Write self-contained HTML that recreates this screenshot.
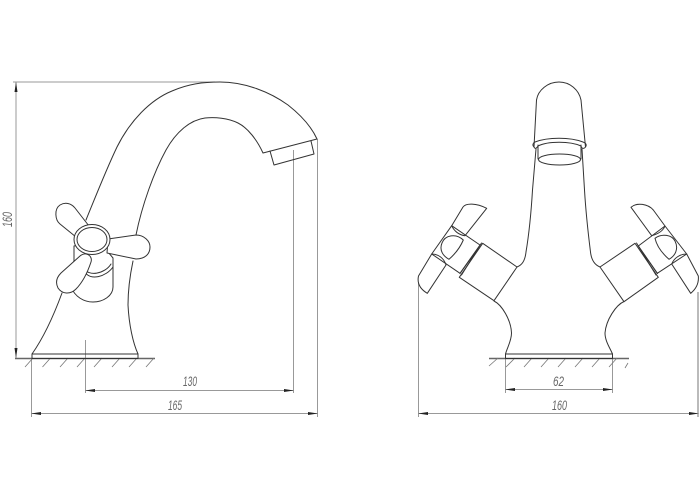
<!DOCTYPE html>
<html><head><meta charset="utf-8"><style>
html,body{margin:0;padding:0;background:#fff}
svg{display:block}
text{font-family:"Liberation Sans",sans-serif;font-style:italic;font-size:14px;fill:#666}
.o{fill:none;stroke:#333;stroke-width:1;stroke-linejoin:round;stroke-linecap:round}
.w{fill:#fff;stroke:#333;stroke-width:1;stroke-linejoin:round}
.d{fill:none;stroke:#999;stroke-width:1}
.g{fill:none;stroke:#666;stroke-width:1.6}
.h{fill:none;stroke:#777;stroke-width:.8}
.a{fill:#222;stroke:none}
</style></head><body>
<svg width="700" height="500" viewBox="0 0 700 500" xmlns="http://www.w3.org/2000/svg">
<rect width="700" height="500" fill="#fff"/>

<!-- LEFT dims -->
<path class="d" d="M13 82H215M16 82V358M85.500 340V393M85.500 390.500H293.500M293.500 150V393M31.500 358V417M31.500 413.500H317.500M317.500 139V417"/>
<path class="a" d="M16 82l1.500 10h-3zM16 358l1.500-10h-3zM85 390.500l10-1.500v3zM294 390.500l-10-1.500v3zM31 413.500l10-1.500v3zM318 413.500l-10-1.500v3z"/>
<path class="g" d="M15 358.500H155"/>
<path class="h" d="M33 358l-8 9M50.500 358l-8 9M68 358l-8 9M85 358l-8 9M102 358l-8 9M120 358l-8 9M137 358l-8 9M154 358l-8 9"/>
<text x="183" y="386" textLength="14" lengthAdjust="spacingAndGlyphs">130</text>
<text x="168" y="410" textLength="14" lengthAdjust="spacingAndGlyphs">165</text>
<text transform="translate(12,227) rotate(-90)" textLength="15" lengthAdjust="spacingAndGlyphs">160</text>

<!-- LEFT faucet -->
<path class="o" d="M86 220C95 198 106 170 117 147C130 121 150 100 172 91C188 84 203 82 220 82C245 82 270 92 288 105C302 116 312 128 317 139L263 153C257 140 248 128 238 123C228 118 215 117 205 118C190 120 176 132 166 150C154 172 142 205 136 235"/>
<path class="o" d="M270 151L274 165L314 154L311 141"/>
<path class="o" d="M133 261C129 280 128 295 128 305C129 325 133 343 138 354M62 293C55 312 44 337 32 354"/>
<rect class="o" x="32" y="354" width="106" height="4.500"/>
<!-- body behind handle -->
<path class="w" d="M74 246V261C72 264 71 268 71 272V287C75 297 84 302 93 302C103 302 113 296 113 287V258L108 252V240Z"/>
<path class="o" d="M84 268C88 277 105 274 111 264M85 272C90 281 106 277 113 267"/>
<!-- upper-left handle -->
<path class="w" d="M89 226L75 208C71 203 65 202 60 205C54 209 55 220 60 224L76 237Z"/>
<!-- right handle -->
<path class="w" d="M108 239L136 235C144 235 150 241 150 247C150 254 145 259 136 259L107 253Z"/>
<ellipse class="w" cx="92" cy="239.500" rx="18" ry="15"/>
<ellipse class="o" cx="92" cy="239.500" rx="15" ry="12"/>
<!-- lower-left handle -->
<path class="w" d="M80 256C86 251 93 256 91 262C88 271 84 281 76 289C70 295 62 294 58 288C55 282 57 277 61 273Z"/>

<!-- RIGHT dims -->
<path class="d" d="M418.500 283V417M418.500 413.500H698M505.500 358V393M612.500 358V393M505.500 389.500H612.500"/>
<path stroke="#bbb" stroke-width="2" fill="none" d="M698 292V417"/>
<path class="a" d="M418 413.500l10-1.500v3zM699 413.500l-10-1.500v3zM505 389.500l10-1.500v3zM613 389.500l-10-1.500v3z"/>
<path class="g" d="M489 358.500H629"/>
<path class="h" d="M498 358l-9 8M515 358l-9 9M532 358l-8 9M549 358l-8 9M566 358l-8 9M583 358l-8 9M600 358l-8 9M617 358l-8 9M628 363l-3 5"/>
<text x="553" y="386" textLength="11" lengthAdjust="spacingAndGlyphs">62</text>
<text x="552" y="410" textLength="15" lengthAdjust="spacingAndGlyphs">160</text>

<!-- RIGHT faucet -->
<path class="o" d="M536 149L532.500 190C531 215 528 240 526 252C525 261 522 265 517 267M582 149L584.500 190C586 215 589 240 590.500 252C591.500 261 595 265 600 267"/>
<path class="o" d="M494 301C502 305 511 320 511.500 333C511.500 341 507 348 505.500 354M624 301.500C616 305 606 320 605 333C605 341 610 348 612.500 354"/>
<rect class="o" x="505.500" y="354" width="107" height="4.500"/>
<!-- cap -->
<path class="o" d="M534 147L536.500 100C538 90 548 82 559 82C570 82 579 90 581 100L585.500 147"/>
<path class="o" d="M534 147C532 145 533 143 535 142C548 137 570 137 583 142C586 143 587 145 585.500 147C584 149 582 149 581 146C570 141 548 141 538 146C536 149 535 149 534 147Z"/>
<path class="o" d="M538 145V159M581 145V159"/>
<ellipse class="o" cx="559.500" cy="159.500" rx="21" ry="5.500"/>
<!-- left handle assembly -->
<path class="o" d="M482.700 243.300L517 267L494 300.700L459.300 277.300Z"/>
<path class="o" d="M480 245.500L460 273.500M481.500 243L461.500 275"/>
<path class="o" d="M451.700 225.700L480 245L460 273.300L431.700 254Z"/>
<path class="o" d="M451.700 225.700L463 207C466 203 476 203 486.700 208.300L465 235.700C459 235 454 231 451.700 225.700Z"/>
<path class="o" d="M431.700 254L418.500 276C417 283 420 289 427.300 293.300L446 265C444 258 438 254 431.700 254Z"/>
<path class="o" d="M463.300 240C456 233 445 235 442 243C439 250 443 256 449 259.300C455 254 460 248 463.300 240Z"/>
<!-- right handle assembly -->
<path class="o" d="M635 243.300L600 267L624 301.700L658.300 277.300Z"/>
<path class="o" d="M638 245.500L657.500 273.500M636.500 243L656 275"/>
<path class="o" d="M665 226L686.700 254L657.300 273.300L638.300 246Z"/>
<path class="o" d="M665 226L653.300 210C648 204 637 202 631 207.300L651.700 235.700C658 234 663 231 665 226Z"/>
<path class="o" d="M686.700 254L698.300 276C699 283 696 289 690.700 293.300L671.700 264C674 258 680 254 686.700 254Z"/>
<path class="o" d="M655 238.300C662 233 672 235 675 241C679 249 675 256 669 259.300C663 254 657 247 655 238.300Z"/>
</svg>
</body></html>
